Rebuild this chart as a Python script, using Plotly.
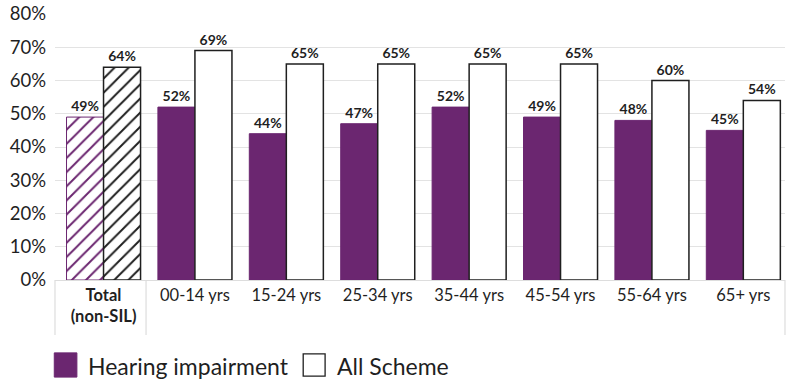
import plotly.graph_objects as go

categories = ["<b>Total<br>(non-SIL)</b>", "00-14 yrs", "15-24 yrs", "25-34 yrs",
              "35-44 yrs", "45-54 yrs", "55-64 yrs", "65+ yrs"]
hearing_name = "Hearing impairment"
scheme_name = "All Scheme"
hearing = [0.49, 0.52, 0.44, 0.47, 0.52, 0.49, 0.48, 0.45]
scheme = [0.64, 0.69, 0.65, 0.65, 0.65, 0.65, 0.60, 0.54]
y_ticks = [0, 0.1, 0.2, 0.3, 0.4, 0.5, 0.6, 0.7, 0.8]

PURPLE = "#6b2670"
DARK = "#1f1f1f"
FONT = "Lato, Open Sans, sans-serif"
n = len(categories)

fig = go.Figure()
fig.add_trace(go.Bar(
    x=categories, y=hearing, name=hearing_name,
    marker=dict(
        color=PURPLE,
        line=dict(color=PURPLE, width=1),
        pattern=dict(shape=["/"] + [""] * (n - 1), bgcolor="white",
                     size=10, solidity=0.2, fillmode="replace"),
    ),
    text=[f"{v:.0%}" for v in hearing], textposition="outside", cliponaxis=False,
    textfont=dict(size=14, color=DARK, family=FONT, weight="bold"),
    showlegend=False,
))
fig.add_trace(go.Bar(
    x=categories, y=scheme, name=scheme_name,
    marker=dict(
        color="white",
        line=dict(color=DARK, width=1.5),
        pattern=dict(shape=["/"] + [""] * (n - 1), fgcolor=DARK, bgcolor="white",
                     size=10, solidity=0.2, fillmode="replace"),
    ),
    text=[f"{v:.0%}" for v in scheme], textposition="outside", cliponaxis=False,
    textfont=dict(size=14, color=DARK, family=FONT, weight="bold"),
    showlegend=False,
))

# separators below the axis (left edge, after the total group, right edge)
shapes = []
for xd in [0, 0.1247, 1]:
    shapes.append(dict(type="line", xref="x domain", yref="paper",
                       x0=xd, x1=xd, y0=0, y1=-0.207,
                       line=dict(color="#dddddd", width=1.2)))
# manual legend
shapes.append(dict(type="rect", xref="paper", yref="paper",
                   x0=-0.001, x1=0.030, y0=-0.274, y1=-0.365,
                   fillcolor=PURPLE, line=dict(color=PURPLE, width=1)))
shapes.append(dict(type="rect", xref="paper", yref="paper",
                   x0=0.340, x1=0.370, y0=-0.278, y1=-0.361,
                   fillcolor="white", line=dict(color=DARK, width=1.3)))
annotations = [
    dict(xref="paper", yref="paper", x=0.043, y=-0.322, text=hearing_name,
         showarrow=False, xanchor="left", yanchor="middle",
         font=dict(size=23, color=DARK, family=FONT)),
    dict(xref="paper", yref="paper", x=0.383, y=-0.322, text=scheme_name,
         showarrow=False, xanchor="left", yanchor="middle",
         font=dict(size=23, color=DARK, family=FONT)),
]

fig.update_layout(
    width=788, height=382,
    margin=dict(l=55, r=3, t=14, b=102),
    paper_bgcolor="white", plot_bgcolor="white",
    barmode="group", bargap=0.19, bargroupgap=0.0,
    font=dict(family=FONT, color=DARK),
    shapes=shapes, annotations=annotations,
    showlegend=False,
)
fig.update_yaxes(range=[0, 0.8], tickvals=y_ticks, tickformat=".0%",
                 showgrid=True, gridcolor="#e3e3e3", gridwidth=1,
                 zeroline=False, showline=False, ticks="",
                 tickfont=dict(size=18.5, color=DARK, family=FONT), ticklabelstandoff=8)
fig.update_xaxes(range=[-0.531, 7.456],
                 showline=True, linecolor="#dddddd", linewidth=1.2, ticks="",
                 tickfont=dict(size=16.5, color=DARK, family=FONT))

fig.write_html("out.html", post_script="document.body.style.margin='0';",
               config={"displayModeBar": False})
